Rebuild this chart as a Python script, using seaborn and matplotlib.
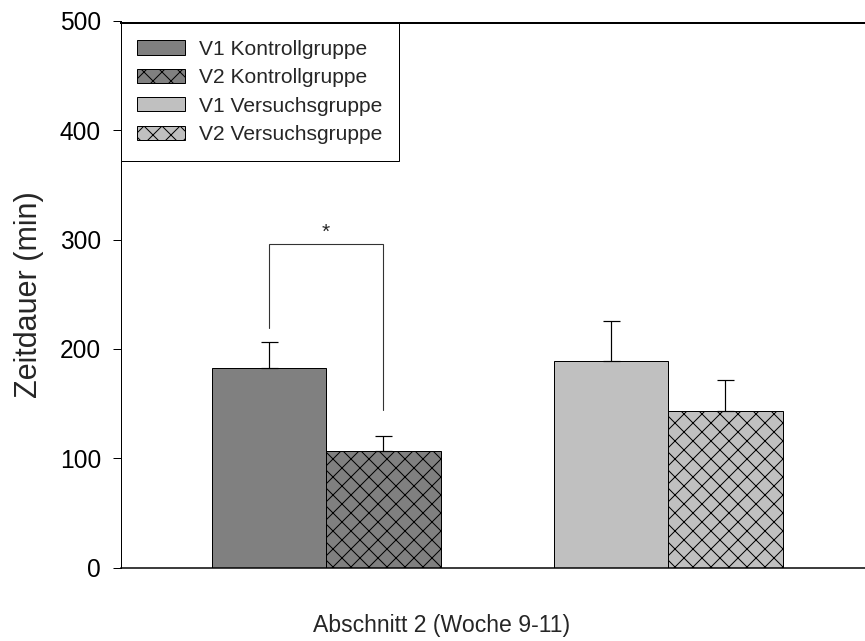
import numpy as np
import pandas as pd
import matplotlib
matplotlib.use("Agg")
import matplotlib.pyplot as plt
from matplotlib.patches import Patch
import seaborn as sns

# Mean durations (min) and standard errors per group and measurement
groups = ["Kontrollgruppe", "Versuchsgruppe"]
visits = ["V1", "V2"]
kontroll_mean = [182.5, 106.7]
kontroll_sem = [23.7, 13.7]
versuch_mean = [188.9, 143.5]
versuch_sem = [36.6, 28.3]

group_colors = {"Kontrollgruppe": "#808080", "Versuchsgruppe": "#c0c0c0"}
visit_hatches = {"V1": "", "V2": "xx"}

legend_labels = ["V1 Kontrollgruppe", "V2 Kontrollgruppe",
                 "V1 Versuchsgruppe", "V2 Versuchsgruppe"]
y_ticks = [0, 100, 200, 300, 400, 500]
x_label = "Abschnitt 2 (Woche 9-11)"
y_label = "Zeitdauer (min)"

# Significance bracket between the two Kontrollgruppe bars
sig_top = 296
sig_left_bottom = 219
sig_right_bottom = 144

df = pd.DataFrame({
    "Gruppe": [g for g in groups for _ in visits],
    "Messung": visits * len(groups),
    "Zeit": kontroll_mean + versuch_mean,
    "SEM": kontroll_sem + versuch_sem,
})

DPI = 108


def pt(px):
    """Convert a size in output pixels to points."""
    return px * 72.0 / DPI


sns.set_style("ticks")
plt.rcParams["font.family"] = ["Liberation Sans", "DejaVu Sans"]
plt.rcParams["hatch.color"] = "black"
plt.rcParams["hatch.linewidth"] = pt(1.0)

fig = plt.figure(figsize=(865 / DPI, 641 / DPI), dpi=DPI)
ax = fig.add_axes([0.13988, 0.11435, 0.86012, 0.85335])

sns.barplot(data=df, x="Gruppe", y="Zeit", hue="Messung", order=groups,
            hue_order=visits, width=0.67, errorbar=None, legend=False,
            edgecolor="black", linewidth=pt(1.0), ax=ax)

# Restyle bars: colour by group, hatch by measurement; collect centres
xs, ys, es = [], [], []
for visit, container in zip(visits, ax.containers):
    for group, bar in zip(groups, container):
        bar.set_facecolor(group_colors[group])
        bar.set_edgecolor("black")
        bar.set_linewidth(pt(1.0))
        bar.set_hatch(visit_hatches[visit])
        row = df[(df["Gruppe"] == group) & (df["Messung"] == visit)].iloc[0]
        xs.append(bar.get_x() + bar.get_width() / 2)
        ys.append(row["Zeit"])
        es.append(row["SEM"])

# Upward-only error bars
ax.errorbar(xs, ys, yerr=[np.zeros(len(es)), es], fmt="none", ecolor="black",
            elinewidth=pt(1.2), capsize=pt(8.5), capthick=pt(1.2), zorder=3)

# Significance bracket
k_v1 = xs[0]
k_v2 = xs[2]
ax.plot([k_v1, k_v1, k_v2, k_v2],
        [sig_left_bottom, sig_top, sig_top, sig_right_bottom],
        color="#333333", lw=pt(1.1), solid_joinstyle="miter")
ax.text((k_v1 + k_v2) / 2, sig_top + 2, "*", ha="center", va="bottom",
        fontsize=pt(21))

ax.set_xlim(-0.6, 1.576)
ax.set_ylim(0, 500)
ax.set_yticks(y_ticks)
ax.set_xticks([])
ax.set_xlabel(x_label, fontsize=pt(23))
ax.set_ylabel(y_label, fontsize=pt(30.5))
ax.xaxis.label.set_va("baseline")
ax.xaxis.set_label_coords(0.4315, -0.117)
ax.yaxis.set_label_coords(-0.104, 0.5)
ax.tick_params(axis="y", direction="out", length=pt(8), width=pt(1.0),
               labelsize=pt(24.5), pad=pt(12), colors="black")

ax.spines["right"].set_visible(False)
ax.spines["left"].set_linewidth(pt(1.0))
ax.spines["bottom"].set_linewidth(pt(1.5))
ax.spines["top"].set_linewidth(pt(2.0))
ax.spines["top"].set_position(("axes", 0.995))
for s in ax.spines.values():
    s.set_color("black")

handles = [
    Patch(facecolor=group_colors[g], edgecolor="black", linewidth=pt(1.0),
          hatch=visit_hatches[v])
    for g in groups for v in visits
]
leg_fs = pt(21)
leg = ax.legend(handles, legend_labels, loc="upper left",
                bbox_to_anchor=(0, 0.995), borderaxespad=0, fontsize=leg_fs,
                handlelength=2.29, handleheight=0.667, handletextpad=0.64,
                labelspacing=0.45, borderpad=0.78, fancybox=False,
                framealpha=1, edgecolor="black")
leg.get_frame().set_linewidth(pt(1.0))

fig.savefig("out.png", dpi=DPI)
